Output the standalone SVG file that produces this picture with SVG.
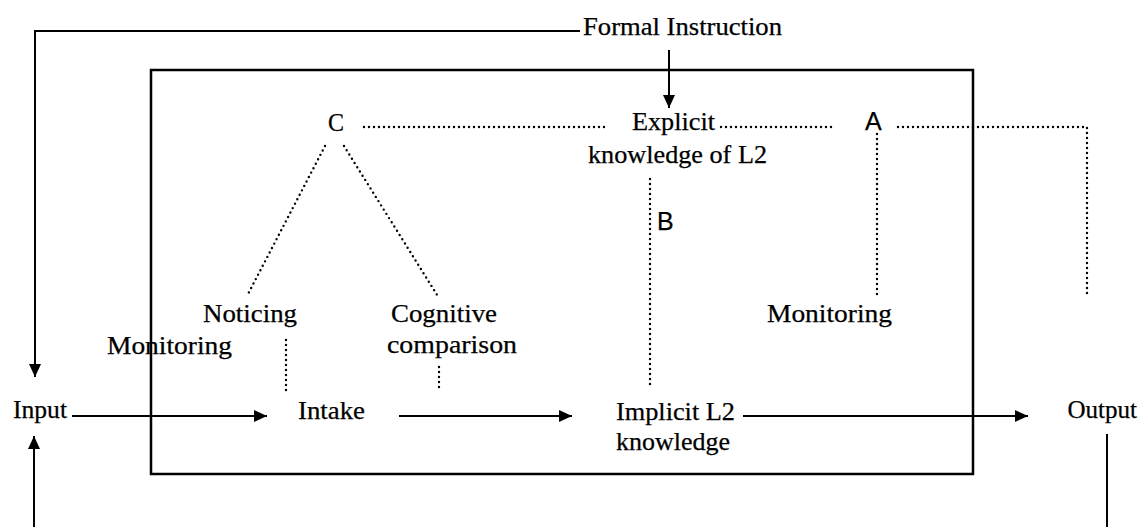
<svg xmlns="http://www.w3.org/2000/svg" width="1141" height="527" viewBox="0 0 1141 527">
<style>
text{font-family:"Liberation Serif","Times New Roman",serif;font-size:25px;fill:#000;stroke:#000;stroke-width:0.25}
.solid{stroke:#000;stroke-width:2;fill:none}
.dot{stroke:#000;stroke-width:2.4;fill:none;stroke-dasharray:0 5;stroke-linecap:round}
.sans{font-family:"Liberation Sans",Arial,sans-serif}
</style>
<defs>
<marker id="ah" markerUnits="userSpaceOnUse" markerWidth="14" markerHeight="12" refX="13" refY="6" orient="auto">
<path d="M0,0 L13,6 L0,12 Z" fill="#000"/>
</marker>
</defs>
<rect width="1141" height="527" fill="#fff"/>
<g id="box">
<rect x="151" y="70" width="822" height="404" fill="none" stroke="#000" stroke-width="2.5"/>
</g>
<g id="connectors">
<path class="solid" d="M580,31 H35 V377" marker-end="url(#ah)"/>
<path class="solid" d="M669,50 V108" marker-end="url(#ah)"/>
<path class="solid" d="M72,416 H267" marker-end="url(#ah)"/>
<path class="solid" d="M399,416 H572" marker-end="url(#ah)"/>
<path class="solid" d="M743,416 H1028" marker-end="url(#ah)"/>
<path class="solid" d="M34,527 V436" marker-end="url(#ah)"/>
<path class="solid" d="M1107,434 V527"/>
<path class="dot" d="M364,127 H609"/>
<path class="dot" d="M721,127 H836"/>
<path class="dot" d="M898,127 H1087 V297"/>
<path class="dot" d="M877,134 V297"/>
<path class="dot" d="M650,179 V389"/>
<path class="dot" d="M325,146 L247,296"/>
<path class="dot" d="M344,146 L439,298"/>
<path class="dot" d="M286,340 V395"/>
<path class="dot" d="M439,367 V392"/>
</g>
<g id="formal"><text x="583" y="35" textLength="199" lengthAdjust="spacingAndGlyphs">Formal Instruction</text></g>
<g id="nodeC"><text x="328" y="131" textLength="16" lengthAdjust="spacingAndGlyphs">C</text></g>
<g id="explicit">
<text x="632" y="130" textLength="83" lengthAdjust="spacingAndGlyphs">Explicit</text>
<text x="588" y="163" textLength="179" lengthAdjust="spacingAndGlyphs">knowledge of L2</text>
</g>
<g id="nodeA"><text class="sans" x="865" y="130" font-size="22">A</text></g>
<g id="nodeB"><text class="sans" x="657" y="230" font-size="19">B</text></g>
<g id="noticing"><text x="203" y="322" textLength="94" lengthAdjust="spacingAndGlyphs">Noticing</text></g>
<g id="monitoring-left"><text x="107" y="354" textLength="125" lengthAdjust="spacingAndGlyphs">Monitoring</text></g>
<g id="cognitive">
<text x="391" y="322" textLength="106" lengthAdjust="spacingAndGlyphs">Cognitive</text>
<text x="387" y="353" textLength="130" lengthAdjust="spacingAndGlyphs">comparison</text>
</g>
<g id="monitoring-right"><text x="767" y="322" textLength="125" lengthAdjust="spacingAndGlyphs">Monitoring</text></g>
<g id="input"><text x="13" y="418" textLength="54" lengthAdjust="spacingAndGlyphs">Input</text></g>
<g id="intake"><text x="298" y="419" textLength="67" lengthAdjust="spacingAndGlyphs">Intake</text></g>
<g id="implicit">
<text x="616" y="420" textLength="119" lengthAdjust="spacingAndGlyphs">Implicit L2</text>
<text x="616" y="450" textLength="114" lengthAdjust="spacingAndGlyphs">knowledge</text>
</g>
<g id="output"><text x="1137" y="418" font-size="23" text-anchor="end">Output</text></g>
</svg>
